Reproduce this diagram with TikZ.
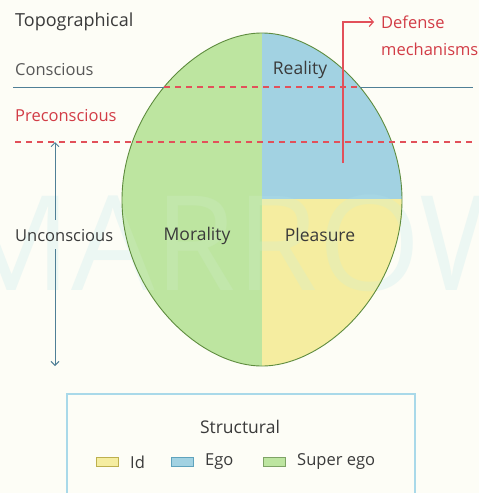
\documentclass[tikz,border=0pt]{standalone}
\usepackage{fontspec}
\setmainfont{Open Sans}
\usetikzlibrary{arrows.meta}
\definecolor{bgc}{HTML}{FDFDF6}
\definecolor{supc}{HTML}{BDE5A0}
\definecolor{supd}{HTML}{5E8C3E}
\definecolor{egoc}{HTML}{A2D2E2}
\definecolor{egod}{HTML}{5FA3BD}
\definecolor{idc}{HTML}{F5EDA0}
\definecolor{idd}{HTML}{BDB04E}
\definecolor{linec}{HTML}{4F7F96}
\definecolor{redc}{HTML}{D23C46}
\definecolor{redl}{HTML}{E2505A}
\definecolor{txtc}{HTML}{3A3A3A}
\definecolor{boxc}{HTML}{A9D9E9}
\definecolor{wmbg}{HTML}{ECF7F3}
\definecolor{wmsup}{HTML}{C2E7AB}
\definecolor{wmego}{HTML}{A6D6E4}
\definecolor{wmid}{HTML}{EAEDAE}
\tikzset{
  lbl/.style={font=\fontsize{16.5}{19}\selectfont, text=txtc, inner sep=0pt},
  reglbl/.style={lbl, font=\fontsize{17.5}{20}\selectfont},
  redlbl/.style={lbl, text=redc},
  wmark/.style={font=\fontsize{132}{132}\selectfont, anchor=base west, inner sep=0pt},
  swatch/.style={minimum width=22pt, minimum height=9pt, inner sep=0pt, line width=1pt},
  reddash/.style={draw=redl, line width=1.2pt, dash pattern=on 6pt off 5pt},
  solidl/.style={draw=linec, line width=1pt},
}
\def\leafpath{(262,33) .. controls (325,33) and (402,108) .. (402,200) .. controls (402,292) and (325,366) .. (262,366) .. controls (199,366) and (122,292) .. (122,200) .. controls (122,108) and (199,33) .. (262,33) -- cycle}
\begin{document}
\begin{tikzpicture}[x=1pt,y=-1pt]
\useasboundingbox (0,0) rectangle (479,493);
\fill[bgc] (0,0) rectangle (479,493);
% watermark outside the leaf
\node[wmark, text=wmbg] (wm0) at (-48,290) {MARROW};
% leaf fills
\begin{scope}
\clip \leafpath;
\begin{scope}
\clip (120,30) rectangle (262,370);
\fill[supc] (120,30) rectangle (262,370);
\node[wmark, text=wmsup] (wm1) at (-48,290) {MARROW};
\end{scope}
\begin{scope}
\clip (262,30) rectangle (405,199);
\fill[egoc] (262,30) rectangle (405,199);
\node[wmark, text=wmego] (wm2) at (-48,290) {MARROW};
\end{scope}
\begin{scope}
\clip (262,199) rectangle (405,370);
\fill[idc] (262,199) rectangle (405,370);
\node[wmark, text=wmid] (wm3) at (-48,290) {MARROW};
\end{scope}
\end{scope}
\draw[supd, line width=0.9pt] \leafpath;
% level lines
\coordinate (c1) at (13,87);
\coordinate (c2) at (164,87);
\coordinate (c3) at (360,87);
\coordinate (c4) at (473,87);
\path[solidl] (c1) -- (c2);
\path[reddash] (c2) -- (c3);
\path[solidl] (c3) -- (c4);
\coordinate (p1) at (15,142);
\coordinate (p2) at (473,142);
\path[reddash] (p1) -- (p2);
% left labels
\node[lbl, anchor=west, font=\fontsize{18}{20}\selectfont] (topo) at (15,22) {Topographical};
\node[lbl, anchor=west, text=txtc!85] (consc) at (15,70) {Conscious};
\node[redlbl, anchor=west] (precon) at (15,116) {Preconscious};
\node[lbl, anchor=west] (uncon) at (15,236) {Unconscious};
\coordinate (ua) at (55,142);
\coordinate (ub) at (55,220);
\coordinate (uc) at (55,249);
\coordinate (ud) at (55,366);
\path[solidl, {Straight Barb[length=4pt,width=8pt]}-] (ua) -- (ub);
\path[solidl, -{Straight Barb[length=4pt,width=8pt]}] (uc) -- (ud);
% region labels
\node[reglbl] (real) at (300,70) {Reality};
\node[reglbl] (moral) at (197,236) {Morality};
\node[reglbl] (pleas) at (320,235) {Pleasure};
% defense
\coordinate (d0) at (343,163);
\coordinate (d1) at (343,22);
\coordinate (d2) at (374,22);
\path[draw=redl, line width=1.2pt, -{Straight Barb[length=4pt,width=9pt]}] (d0) -- (d1) -- (d2);
\node[redlbl, anchor=west] (def1) at (381,22) {Defense};
\node[redlbl, anchor=west] (def2) at (381,49) {mechanisms};
% legend
\draw[boxc, line width=1.2pt] (67,510) -- (67,394) -- (415,394) -- (415,510);
\node[lbl, font=\fontsize{17.5}{20}\selectfont] (struct) at (240,427) {Structural};
\node[swatch, fill=idc, draw=idd] (sid) at (107.5,462) {};
\node[lbl, anchor=west] (tid) at (130,462) {Id};
\node[swatch, fill=egoc, draw=egod] (sego) at (182,462) {};
\node[lbl, anchor=west] (tego) at (205,462) {Ego};
\node[swatch, fill=supc, draw=supd!80] (ssup) at (274.5,462) {};
\node[lbl, anchor=west] (tsup) at (297,462) {Super ego};
\end{tikzpicture}
\end{document}
